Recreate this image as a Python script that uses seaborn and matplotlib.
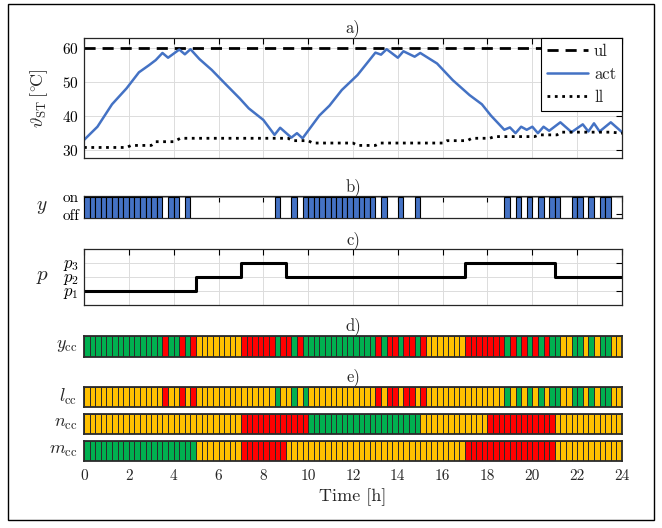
import numpy as np
import matplotlib
matplotlib.use("Agg")
import matplotlib.pyplot as plt
from matplotlib.colors import ListedColormap
from matplotlib.patches import Rectangle
import seaborn as sns

# time axis
hours = list(range(0, 25, 2))
cell_len = 0.25  # 15 min cells, 96 per day

# a) storage tank temperature
act_t = [0.0, 0.6, 1.25, 1.9, 2.45, 2.9, 3.2, 3.5, 3.75, 4.25,
         4.5, 4.75, 5.15, 5.7, 6.35, 6.95, 7.35, 8.0, 8.5, 8.75,
         9.25, 9.5, 9.75, 10.5, 10.95, 11.5, 12.2, 13.0, 13.25, 13.5,
         14.0, 14.25, 14.75, 15.0, 15.75, 16.45, 17.2, 17.75, 18.15, 18.75,
         19.0, 19.25, 19.5, 19.75, 20.0, 20.25, 20.5, 20.75, 21.25, 21.75,
         22.25, 22.5, 22.75, 23.0, 23.5, 24.0]
act_v = [32.9, 36.8, 43.4, 48.1, 52.8, 54.9, 56.4, 58.5, 57.1, 59.5,
         58.1, 59.6, 56.7, 53.5, 49.1, 45.1, 42.2, 38.8, 34.4, 36.5,
         33.6, 34.9, 33.4, 40.1, 43.0, 47.6, 52.0, 58.6, 58.0, 59.6,
         57.1, 59.0, 57.4, 58.5, 55.4, 50.5, 46.1, 43.4, 40.1, 35.9,
         36.6, 34.9, 36.8, 35.9, 36.8, 34.9, 36.8, 35.6, 38.1, 35.2,
         37.5, 35.4, 37.8, 35.4, 38.1, 35.2]
ll_t = [0, 1.9, 2.1, 3.0, 3.2, 4.0, 4.3, 9.1, 9.3, 10.0,
        10.2, 12.0, 12.2, 13.0, 13.2, 16.0, 16.2, 17.1, 17.3, 18.1,
        18.3, 20.1, 20.3, 21.1, 21.3, 23.5, 24.0]
ll_v = [30.7, 30.7, 31.3, 31.3, 32.4, 32.4, 33.4, 33.4, 32.7, 32.7,
        32.0, 32.0, 31.3, 31.3, 32.0, 32.0, 32.7, 32.7, 33.4, 33.4,
        33.9, 33.9, 34.4, 34.4, 35.2, 35.2, 34.9]
ul_t = [0, 24]
ul_v = [60, 60]

# b) heater on/off per cell
y_on = ("111111111111110110100000"
        "000000000010010111111111"
        "111101001001000000000000"
        "000101010101100110101100")

# c) price level
p_t = [0, 5, 7, 9, 17, 21, 24]
p_level = [1, 2, 3, 2, 3, 2, 2]

# d), e) criteria per cell: G green, Y yellow, R red
y_cc = ("GGGGGGGGGGGGGGRGGRGRYYYY"
        "YYYYRRRRRRGRRGRGGGGGGGGG"
        "GGGGRGRRGRRGRYYYYYYYRRRR"
        "RRRGRGRGRGRGGYYGGYGYGGYY")
l_cc = ("YYYYYYYYYYYYYYRYYRYRYYYY"
        "YYYYYYYYYYGYYGYGYYYYYYYY"
        "YYYYRYRRYRRYRYYYYYYYYYYY"
        "YYYGYGYGYGYGGYYGGYGYGGYY")
n_cc = ("YYYYYYYYYYYYYYYYYYYYYYYY"
        "YYYYRRRRRRRRRRRRGGGGGGGG"
        "GGGGGGGGGGGGYYYYYYYYYYYY"
        "RRRRRRRRRRRRYYYYYYYYYYYY")
m_cc = ("GGGGGGGGGGGGGGGGGGGGYYYY"
        "YYYYRRRRRRRRYYYYYYYYYYYY"
        "YYYYYYYYYYYYYYYYYYYYRRRR"
        "RRRRRRRRRRRRYYYYYYYYYYYY")

BLUE = "#4472C4"
GREEN = "#00B050"
YELLOW = "#FFC000"
RED = "#FF0000"
EDGE = "#2b2b2b"
code_map = {"G": 0, "Y": 1, "R": 2}
cc_cmap = ListedColormap([GREEN, YELLOW, RED])

sns.set_theme(style="white")
plt.rcParams["font.family"] = ["cmr10", "DejaVu Serif"]
plt.rcParams["mathtext.fontset"] = "cm"
plt.rcParams["axes.formatter.use_mathtext"] = True
plt.rcParams["axes.unicode_minus"] = False
plt.rcParams["font.size"] = 11

W, H = 662, 528
fig = plt.figure(figsize=(W / 100, H / 100), dpi=100)


def px_axes(top, bottom, left=84, right=622):
    return fig.add_axes([left / W, 1 - bottom / H, (right - left) / W, (bottom - top) / H])


def style_time_axes(ax):
    ax.set_xlim(0, 24)
    ax.set_xticks(hours)
    ax.set_xticklabels([])
    ax.grid(True, color="#dcdcdc", linewidth=0.7)
    ax.tick_params(direction="in", top=True, right=True, length=4, width=0.8,
                   labelsize=11, colors="black")
    for s in ax.spines.values():
        s.set_color("#262626")
        s.set_linewidth(0.9)
    ax.set_xlabel("")


def draw_cells(ax, codes, label, show_x=False):
    vals = np.array([[code_map[c] for c in codes]])
    sns.heatmap(vals, ax=ax, cmap=cc_cmap, vmin=-0.5, vmax=2.5, cbar=False,
                linewidths=0.55, linecolor=EDGE, xticklabels=False, yticklabels=False)
    for s in ax.spines.values():
        s.set_visible(True)
        s.set_color(EDGE)
        s.set_linewidth(1.3)
    ax.set_yticks([])
    ax.set_xticks(np.arange(0, len(codes) + 1, 8))
    if show_x:
        ax.set_xticklabels([str(h) for h in hours], rotation=0)
    else:
        ax.set_xticklabels([])
    ax.tick_params(axis="x", length=0, pad=6, labelsize=11)
    ax.set_ylabel(label, rotation=0, ha="right", va="center", fontsize=13)
    ax.yaxis.set_label_coords(-0.012, 0.5)


# a)
ax_a = px_axes(38, 158)
sns.lineplot(x=ul_t, y=ul_v, ax=ax_a, color="black", linewidth=2.0,
             linestyle="--", label="ul")
sns.lineplot(x=act_t, y=act_v, ax=ax_a, color=BLUE, linewidth=1.8, label="act")
sns.lineplot(x=ll_t, y=ll_v, ax=ax_a, color="black", linewidth=2.0,
             linestyle=":", label="ll")
ax_a.lines[0].set_dashes((4, 2.5))
style_time_axes(ax_a)
ax_a.set_ylim(27.6, 62.9)
ax_a.set_yticks([30, 40, 50, 60])
ax_a.set_title("a)", fontsize=12, pad=4)
ax_a.set_ylabel(r"$\vartheta_{\mathrm{ST}}\,[^{\circ}\!\mathrm{C}]$", fontsize=13)
ax_a.yaxis.set_label_coords(-0.064, 0.5)
leg = ax_a.legend(loc="upper right", borderaxespad=0, fancybox=False,
                  edgecolor="black", framealpha=1, handlelength=2.5,
                  handletextpad=0.35, fontsize=12, borderpad=0.35,
                  labelspacing=0.45)
leg.get_frame().set_linewidth(0.8)

# b)
ax_b = px_axes(196, 218)
starts = [i * cell_len for i, v in enumerate(y_on) if v == "1"]
ax_b.bar(starts, 1.2, bottom=-0.2, width=cell_len, align="edge", color=BLUE,
         edgecolor="black", linewidth=0.8, zorder=3)
style_time_axes(ax_b)
ax_b.set_ylim(-0.2, 1.04)
ax_b.set_yticks([0, 1])
ax_b.set_yticklabels(["off", "on"])
ax_b.grid(False, axis="y")
ax_b.axhline(1, color="#a0a0a0", linewidth=1.4, zorder=1)
ax_b.set_title("b)", fontsize=12, pad=3)
ax_b.set_ylabel(r"$y$", rotation=0, ha="center", va="center", fontsize=14)
ax_b.yaxis.set_label_coords(-0.078, 0.5)

# c)
ax_c = px_axes(249, 305)
sns.lineplot(x=p_t, y=p_level, ax=ax_c, color="black", linewidth=2.2,
             drawstyle="steps-post")
style_time_axes(ax_c)
ax_c.set_ylim(0, 4)
ax_c.set_yticks([1, 2, 3])
ax_c.set_yticklabels([r"$p_1$", r"$p_2$", r"$p_3$"], fontsize=12)
ax_c.set_title("c)", fontsize=12, pad=3)
ax_c.set_ylabel(r"$p$", rotation=0, ha="center", va="center", fontsize=15)
ax_c.yaxis.set_label_coords(-0.078, 0.5)

# d)
ax_d = px_axes(336, 357)
draw_cells(ax_d, y_cc, r"$y_{\mathrm{cc}}$")
ax_d.set_title("d)", fontsize=12, pad=4)

# e)
ax_l = px_axes(387, 407)
draw_cells(ax_l, l_cc, r"$l_{\mathrm{cc}}$")
ax_l.set_title("e)", fontsize=12, pad=4)
ax_n = px_axes(414, 434)
draw_cells(ax_n, n_cc, r"$n_{\mathrm{cc}}$")
ax_m = px_axes(441, 461)
draw_cells(ax_m, m_cc, r"$m_{\mathrm{cc}}$", show_x=True)
ax_m.set_xlabel("Time [h]", fontsize=13, labelpad=4)

frame = Rectangle((8 / W, 1 - 520 / H), (654 - 8) / W, (520 - 4) / H,
                  transform=fig.transFigure, fill=False, edgecolor="black",
                  linewidth=1.0)
fig.patches.append(frame)

fig.savefig("out.png", dpi=100)
